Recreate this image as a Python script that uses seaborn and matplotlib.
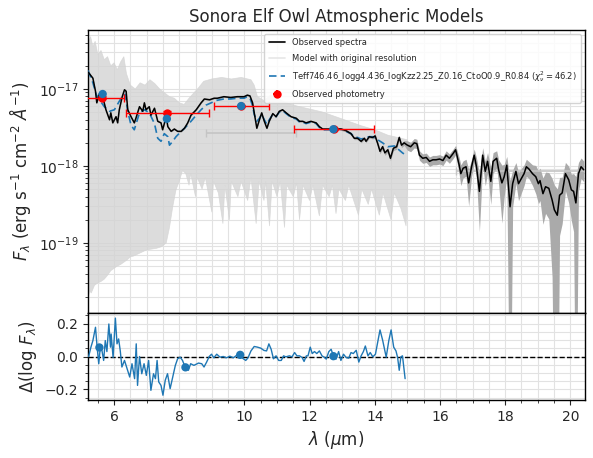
import numpy as np
import pandas as pd
import matplotlib
matplotlib.use("Agg")
import matplotlib.pyplot as plt
from matplotlib.lines import Line2D
from matplotlib.ticker import MultipleLocator, FixedLocator, NullFormatter, LogFormatterSciNotation
import seaborn as sns

# ---------------- data ----------------
obs_wl = [5.20, 5.24, 5.35, 5.43, 5.47, 5.55, 5.65, 5.75, 5.86, 5.90, 5.96, 6.06, 6.11, 6.16, 6.25,
          6.32, 6.37, 6.42, 6.52, 6.62, 6.67, 6.78, 6.88, 6.93, 6.98, 7.08, 7.13, 7.24, 7.34, 7.44,
          7.49, 7.60, 7.65, 7.75, 7.85, 7.95, 8.06, 8.16, 8.26, 8.36, 8.52, 8.67, 8.77, 8.93, 9.07,
          9.17, 9.37, 9.58, 9.78, 9.99, 10.09, 10.17, 10.25, 10.30, 10.38, 10.46, 10.53, 10.61, 10.69,
          10.76, 10.87, 10.97, 11.07, 11.17, 11.28, 11.43, 11.59, 11.69, 11.79, 11.89, 12.04, 12.20,
          12.30, 12.40, 12.55, 12.71, 12.96, 13.11, 13.27, 13.37, 13.47, 13.58, 13.68, 13.73, 13.83,
          13.93, 14.01, 14.09, 14.16, 14.24, 14.31, 14.40, 14.48, 14.57, 14.67, 14.75, 14.82, 14.90,
          15.00, 15.10, 15.21, 15.29, 15.37, 15.47, 15.58, 15.68, 15.78, 15.88, 15.99, 16.09, 16.19,
          16.29, 16.40, 16.48, 16.59, 16.64, 16.71, 16.80, 16.88, 16.97, 17.05, 17.12, 17.21, 17.31,
          17.39, 17.46, 17.56, 17.63, 17.74, 17.80, 17.90, 17.97, 18.05, 18.15, 18.23, 18.33, 18.41,
          18.50, 18.58, 18.65, 18.73, 18.84, 18.94, 19.02, 19.07, 19.16, 19.24, 19.34, 19.44, 19.51,
          19.60, 19.67, 19.75, 19.85, 19.95, 20.03, 20.10, 20.17, 20.25, 20.33, 20.41]
obs_logf = [-16.78, -16.80, -16.86, -17.03, -17.18, -17.06, -17.10, -17.27, -17.40, -17.31, -17.44,
            -17.36, -17.44, -17.27, -17.10, -17.01, -17.03, -17.27, -17.36, -17.44, -17.38, -17.23,
            -17.29, -17.18, -17.27, -17.23, -17.34, -17.25, -17.42, -17.44, -17.53, -17.36, -17.49,
            -17.55, -17.52, -17.55, -17.55, -17.51, -17.44, -17.34, -17.27, -17.18, -17.13, -17.14,
            -17.12, -17.12, -17.10, -17.11, -17.10, -17.10, -17.08, -17.09, -17.18, -17.31, -17.51,
            -17.40, -17.31, -17.42, -17.51, -17.42, -17.32, -17.36, -17.29, -17.27, -17.31, -17.36,
            -17.38, -17.42, -17.42, -17.44, -17.42, -17.44, -17.49, -17.52, -17.52, -17.52, -17.52,
            -17.54, -17.58, -17.64, -17.64, -17.68, -17.64, -17.68, -17.62, -17.63, -17.61, -17.71,
            -17.81, -17.75, -17.83, -17.79, -17.90, -17.77, -17.75, -17.63, -17.73, -17.70, -17.73,
            -17.75, -17.70, -17.71, -17.86, -17.90, -17.89, -17.94, -17.92, -17.92, -17.91, -17.93,
            -17.86, -17.90, -17.84, -17.79, -17.99, -18.10, -18.03, -18.01, -18.22, -18.01, -17.86,
            -18.01, -18.33, -17.86, -18.07, -17.94, -18.20, -17.94, -17.90, -18.05, -18.22, -18.14,
            -17.99, -18.53, -18.23, -18.07, -18.23, -18.16, -18.10, -18.01, -18.04, -18.10, -18.14,
            -18.23, -18.19, -18.36, -18.27, -18.29, -18.44, -18.57, -18.64, -18.38, -18.35, -18.10,
            -18.18, -18.31, -18.33, -18.48, -18.10, -18.01, -18.05]
obs_err_frac = ([0.02] * 76 +
                [0.04] * 10 +
                [0.07] * 12 +
                [0.14] * 16 +
                [0.25, 0.30, 0.25, 0.25, 0.50, 0.25, 0.20, 0.30, 0.70, 0.25, 0.35, 0.30, 0.50, 0.30,
                 0.25, 0.35, 0.70, 0.45, 0.30, 1.20, 0.50, 0.30, 0.40, 0.35, 0.30, 0.25, 0.25, 0.30,
                 0.40, 0.45, 0.45, 0.60, 0.55, 0.60, 0.90, 1.10, 1.20, 0.70, 0.60, 0.40, 0.50, 0.60,
                 0.70, 1.20, 0.40, 0.30, 0.30])

mod_wl = [5.20, 5.24, 5.35, 5.45, 5.55, 5.70, 5.86, 6.01, 6.16, 6.27, 6.34, 6.42, 6.52, 6.62, 6.78,
          6.93, 7.08, 7.24, 7.34, 7.44, 7.54, 7.65, 7.70, 7.80, 7.90, 8.06, 8.21, 8.36, 8.52, 8.67,
          8.82, 8.98, 9.13, 9.37, 9.58, 9.78, 9.99, 10.09, 10.17, 10.25, 10.30, 10.38, 10.46, 10.53,
          10.61, 10.69, 10.76, 10.87, 10.97, 11.07, 11.17, 11.28, 11.43, 11.59, 11.69, 11.79, 11.89,
          12.04, 12.20, 12.30, 12.40, 12.55, 12.71, 12.96, 13.11, 13.27, 13.37, 13.47, 13.58, 13.68,
          13.83, 13.93, 14.09, 14.24, 14.40, 14.60, 14.85, 14.95]
mod_logf = [-16.76, -16.80, -16.92, -17.07, -17.14, -17.23, -17.29, -17.27, -17.16, -17.08, -17.07,
            -17.29, -17.47, -17.53, -17.31, -17.27, -17.31, -17.45, -17.64, -17.68, -17.58, -17.62,
            -17.73, -17.68, -17.62, -17.55, -17.49, -17.42, -17.34, -17.27, -17.21, -17.18, -17.15,
            -17.13, -17.13, -17.12, -17.12, -17.10, -17.12, -17.22, -17.33, -17.42, -17.38, -17.33,
            -17.40, -17.46, -17.40, -17.33, -17.36, -17.30, -17.28, -17.32, -17.37, -17.39, -17.43,
            -17.43, -17.45, -17.43, -17.45, -17.50, -17.53, -17.53, -17.53, -17.52, -17.55, -17.58,
            -17.62, -17.63, -17.65, -17.64, -17.62, -17.62, -17.66, -17.70, -17.75, -17.74, -17.83,
            -17.86]

hires_up_wl = [5.20, 5.28, 5.35, 5.42, 5.50, 5.60, 5.70, 5.80, 5.90, 6.00, 6.10, 6.20, 6.30, 6.38,
               6.50, 6.65, 6.80, 6.95, 7.10, 7.25, 7.40, 7.55, 7.70, 7.85, 8.00, 8.15, 8.30, 8.45,
               8.60, 8.75, 9.00, 9.30, 9.60, 9.90, 10.20, 10.30, 10.40, 10.60, 10.80, 11.00, 11.30,
               11.60, 12.00, 12.40, 12.80, 13.20, 13.60, 14.00, 14.40, 14.80, 15.00]
hires_up_logf = [-16.40, -16.32, -16.45, -16.38, -16.55, -16.50, -16.62, -16.58, -16.70, -16.66,
                 -16.75, -16.65, -16.58, -16.80, -16.95, -17.00, -16.92, -16.95, -16.88, -16.93,
                 -17.00, -17.05, -17.10, -17.12, -17.18, -17.20, -17.12, -17.05, -16.98, -16.90,
                 -16.87, -16.85, -16.87, -16.85, -16.88, -16.95, -17.10, -17.15, -17.08, -17.12,
                 -17.18, -17.22, -17.26, -17.30, -17.36, -17.42, -17.48, -17.53, -17.60, -17.64,
                 -17.66]
hires_lo_wl = [5.20, 5.25, 5.30, 5.40, 5.50, 5.60, 5.70, 5.80, 5.90, 6.00, 6.10, 6.20, 6.30, 6.40,
               6.50, 6.60, 6.70, 6.85, 7.00, 7.15, 7.30, 7.45, 7.60, 7.70, 7.80, 7.90, 8.00, 8.10,
               8.20, 8.30, 8.35, 8.50, 8.55, 8.70, 8.80, 9.00, 9.05, 9.20, 9.34, 9.40, 9.54, 9.60,
               9.80, 9.90, 10.10, 10.20, 10.36, 10.45, 10.60, 10.65, 10.77, 10.85, 11.00, 11.10,
               11.23, 11.30, 11.50, 11.60, 11.69, 11.80, 12.00, 12.10, 12.30, 12.40, 12.60, 12.70,
               12.81, 12.90, 13.10, 13.20, 13.50, 13.60, 13.80, 13.90, 14.14, 14.25, 14.50, 14.60,
               14.80, 14.96, 15.00]
hires_lo_logf = [-19.74, -19.62, -19.65, -19.55, -19.52, -19.50, -19.47, -19.42, -19.36, -19.33,
                 -19.30, -19.28, -19.25, -19.22, -19.18, -19.17, -19.15, -19.12, -19.09, -19.08,
                 -19.07, -19.05, -19.00, -18.80, -18.53, -18.31, -18.20, -18.06, -18.10, -18.25,
                 -18.10, -18.40, -18.15, -18.30, -18.15, -18.60, -18.20, -18.35, -18.75, -18.25,
                 -18.70, -18.20, -18.40, -18.20, -18.45, -18.15, -18.75, -18.20, -18.45, -18.20,
                 -18.78, -18.20, -18.40, -18.20, -18.80, -18.25, -18.40, -18.22, -18.70, -18.25,
                 -18.45, -18.25, -18.65, -18.25, -18.40, -18.25, -18.62, -18.30, -18.45, -18.25,
                 -18.64, -18.30, -18.50, -18.30, -18.64, -18.35, -18.70, -18.35, -18.55, -18.78,
                 -18.30]

phot_wl = [5.63, 7.63, 9.91, 12.75]
phot_wl_err = [0.66, 1.27, 0.85, 1.22]
phot_flux = [7.7e-18, 4.9e-18, 6.0e-18, 3.0e-18]
phot_flux_err = [0.3e-18, 0.2e-18, 0.2e-18, 0.1e-18]
model_phot_wl = [5.65, 7.62, 9.90, 12.73]
model_phot_flux = [8.6e-18, 4.1e-18, 6.0e-18, 3.0e-18]

other_phot_wl = [10.20, 18.50]
other_phot_wl_err = [1.38, 2.00]
other_phot_flux = [2.65e-18, 8.5e-19]

res_wl = [5.22, 5.29, 5.35, 5.43, 5.48, 5.53, 5.58, 5.63, 5.68, 5.73, 5.78, 5.84, 5.89, 5.91, 5.97,
          6.04, 6.09, 6.14, 6.19, 6.24, 6.32, 6.40, 6.48, 6.55, 6.63, 6.68, 6.72, 6.78, 6.85, 6.92,
          6.99, 7.06, 7.13, 7.21, 7.27, 7.32, 7.37, 7.44, 7.50, 7.57, 7.64, 7.72, 7.81, 7.88, 7.95,
          8.03, 8.10, 8.18, 8.28, 8.35, 8.45, 8.59, 8.69, 8.76, 8.84, 8.92, 8.99, 9.06, 9.15, 9.25,
          9.35, 9.45, 9.55, 9.66, 9.76, 9.86, 9.94, 10.04, 10.11, 10.20, 10.30, 10.40, 10.50, 10.60,
          10.68, 10.75, 10.82, 10.89, 10.97, 11.05, 11.13, 11.20, 11.27, 11.38, 11.46, 11.54, 11.61,
          11.69, 11.77, 11.83, 11.90, 11.95, 12.02, 12.08, 12.15, 12.22, 12.30, 12.38, 12.46, 12.51,
          12.59, 12.66, 12.73, 12.81, 12.89, 12.96, 13.04, 13.12, 13.20, 13.27, 13.34, 13.43, 13.51,
          13.58, 13.65, 13.71, 13.79, 13.86, 13.94, 14.02, 14.10, 14.16, 14.24, 14.35, 14.43, 14.50,
          14.58, 14.65, 14.70, 14.75, 14.80, 14.85, 14.93]
res_val = [0.000, 0.057, 0.097, 0.178, 0.057, -0.044, 0.063, 0.034, -0.024, 0.097, 0.030, 0.198,
           0.057, 0.137, -0.006, 0.234, 0.077, 0.107, 0.034, -0.064, -0.024, -0.074, -0.125, -0.044,
           -0.135, 0.077, -0.176, 0.000, -0.105, -0.044, -0.115, -0.024, -0.206, -0.105, -0.135,
           -0.024, -0.155, -0.176, -0.236, -0.145, -0.105, -0.196, -0.115, -0.054, -0.014, -0.004,
           -0.024, -0.064, -0.084, -0.044, -0.054, -0.040, -0.044, -0.064, -0.034, 0.000, 0.014,
           -0.008, 0.014, -0.004, 0.000, -0.008, 0.002, -0.008, 0.007, 0.009, -0.010, -0.024, -0.008,
           0.034, 0.061, 0.057, 0.051, 0.037, 0.034, 0.077, 0.044, -0.014, 0.004, -0.024, -0.024,
           0.004, -0.002, 0.004, -0.002, 0.024, 0.004, 0.004, -0.006, -0.030, 0.004, 0.004, 0.057,
           0.018, 0.030, 0.018, 0.034, 0.004, -0.006, -0.016, 0.030, 0.044, 0.004, -0.016, 0.030,
           -0.024, 0.014, -0.006, -0.010, 0.024, 0.018, 0.038, -0.034, 0.004, 0.030, 0.064, 0.004,
           0.024, -0.002, 0.014, 0.097, 0.162, 0.100, -0.004, 0.097, 0.162, 0.057, 0.034, -0.006,
           -0.084, -0.002, 0.004, -0.135]
res_phot_wl = [5.55, 8.19, 9.87, 12.73]
res_phot_val = [0.055, -0.066, 0.010, 0.002]

flux_ticks = [1e-19, 1e-18, 1e-17]
res_ticks = [-0.2, 0.0, 0.2]
wl_ticks = [6, 8, 10, 12, 14, 16, 18, 20]

model_label = r"Teff746.46_logg4.436_logKzz2.25_Z0.16_CtoO0.9_R0.84 ($\chi^2_\nu=46.2$)"

# ---------------- figure ----------------
sns.set_style("ticks")
plt.rcParams["font.family"] = ["DejaVu Sans"]
plt.rcParams["mathtext.fontset"] = "dejavusans"

fig = plt.figure(figsize=(5.93, 4.58), dpi=100)
gs = fig.add_gridspec(2, 1, height_ratios=[283, 87], hspace=0.0,
                      left=88 / 593, right=585 / 593, top=1 - 30 / 458, bottom=1 - 400 / 458)
ax = fig.add_subplot(gs[0])
axr = fig.add_subplot(gs[1], sharex=ax)

blue = "#1f77b4"
hires_color = "#d4d4d4"
band_color = "#aaaaaa"

obs_df = pd.DataFrame({"wl": obs_wl, "flux": 10 ** np.array(obs_logf)})
obs_df["err"] = obs_df["flux"] * np.array(obs_err_frac)
mod_df = pd.DataFrame({"wl": mod_wl, "flux": 10 ** np.array(mod_logf)})
res_df = pd.DataFrame({"wl": res_wl, "res": res_val})

ax.set_yscale("log")

# high-resolution model (envelope polygon)
poly_x = list(hires_up_wl) + list(hires_lo_wl[::-1])
poly_y = list(10 ** np.array(hires_up_logf)) + list(10 ** np.array(hires_lo_logf[::-1]))
ax.fill(poly_x, poly_y, color=hires_color, alpha=0.8, lw=0.5, zorder=1)

# uncertainty band
low = np.clip(obs_df["flux"] - obs_df["err"], 1e-22, None)
ax.fill_between(obs_df["wl"], low, obs_df["flux"] + obs_df["err"], color=band_color,
                lw=0, zorder=2)

sns.lineplot(data=obs_df, x="wl", y="flux", ax=ax, color="black", lw=1.1,
             estimator=None, sort=False, zorder=4)
sns.lineplot(data=mod_df, x="wl", y="flux", ax=ax, color=blue, lw=1.2,
             estimator=None, sort=False, zorder=3.8, linestyle=(0, (4.5, 2.5)))

ax.errorbar(other_phot_wl, other_phot_flux, xerr=other_phot_wl_err, fmt="none",
            ecolor="#c4c4c4", elinewidth=1.2, capsize=3, zorder=3.5)
ax.errorbar(phot_wl, phot_flux, xerr=phot_wl_err, yerr=phot_flux_err, fmt="o", color="red",
            ms=5, capsize=3, lw=1, zorder=5)
sns.scatterplot(x=model_phot_wl, y=model_phot_flux, ax=ax, color=blue, s=36,
                edgecolor="none", zorder=6)

ax.set_xlim(5.2, 20.45)
ax.set_ylim(10 ** -19.91, 10 ** -16.234)
ax.set_title("Sonora Elf Owl Atmospheric Models", fontsize=12)
ax.set_ylabel(r"$F_\lambda$ (erg s$^{-1}$ cm$^{-2}$ $\AA^{-1}$)", fontsize=12)
ax.set_xlabel("")
ax.yaxis.set_major_locator(FixedLocator(flux_ticks))
ax.yaxis.set_major_formatter(LogFormatterSciNotation())
minor_flux = [m * d for d in [1e-20, 1e-19, 1e-18, 1e-17] for m in range(2, 10)
              if 10 ** -19.91 < m * d < 10 ** -16.234]
ax.yaxis.set_minor_locator(FixedLocator(minor_flux))
ax.yaxis.set_minor_formatter(NullFormatter())
ax.tick_params(axis="x", which="both", length=0, labelbottom=False)
ax.tick_params(axis="y", labelsize=10)
ax.grid(which="both", color="#e2e2e2", lw=0.8, zorder=0)
ax.set_axisbelow(True)

handles = [Line2D([], [], color="black", lw=1.2),
           Line2D([], [], color="#e6e6e6", lw=1.2),
           Line2D([], [], color=blue, lw=1.2, linestyle=(0, (4.5, 2.5))),
           ax.errorbar([], [], xerr=[], yerr=[], fmt="o", color="red", ms=5, capsize=2)]
labels = ["Observed spectra", "Model with original resolution", model_label,
          "Observed photometry"]
ax.legend(handles, labels, loc="upper right", fontsize=6, framealpha=0.85,
          handlelength=2.0, borderpad=0.5, labelspacing=0.75)

# residuals
sns.lineplot(data=res_df, x="wl", y="res", ax=axr, color=blue, lw=1.0,
             estimator=None, sort=False, zorder=3)
sns.scatterplot(x=res_phot_wl, y=res_phot_val, ax=axr, color=blue, s=36,
                edgecolor="none", zorder=4)
axr.axhline(0, color="black", ls="--", lw=1.0, zorder=2)
axr.set_ylim(-0.265, 0.265)
axr.set_xlim(5.2, 20.45)
axr.xaxis.set_major_locator(FixedLocator(wl_ticks))
axr.xaxis.set_minor_locator(MultipleLocator(0.5))
axr.yaxis.set_major_locator(FixedLocator(res_ticks))
axr.yaxis.set_minor_locator(MultipleLocator(0.05))
axr.grid(which="both", color="#e2e2e2", lw=0.8, zorder=0)
axr.set_axisbelow(True)
axr.set_xlabel(r"$\lambda$ ($\mu$m)", fontsize=12)
axr.set_ylabel(r"$\Delta(\log\,F_\lambda)$", fontsize=12)
axr.tick_params(labelsize=10)

for a in (ax, axr):
    for s in a.spines.values():
        s.set_visible(True)
        s.set_color("black")
        s.set_linewidth(1.0)

fig.savefig("out.png", dpi=100)
